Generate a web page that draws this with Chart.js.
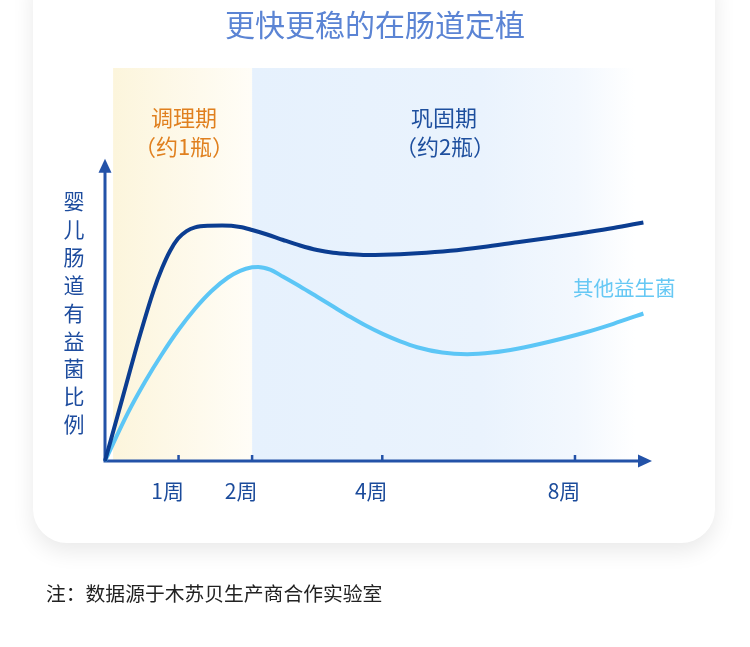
<!DOCTYPE html>
<html>
<head>
<meta charset="utf-8">
<script src="https://cdn.jsdelivr.net/npm/chart.js@4/dist/chart.umd.min.js"></script>
<style>
  html, body { margin: 0; padding: 0; background: #ffffff; }
  body { width: 750px; height: 647px; position: relative; overflow: hidden; font-family: "Noto Sans CJK SC", "Noto Sans", sans-serif; }
  #card { position: absolute; left: 33px; top: -40px; width: 682px; height: 583px; background: #fff; border-radius: 34px; box-shadow: 0 8px 22px rgba(0,0,0,0.09); }
  #wrap { position: absolute; left: 0; top: 0; width: 750px; height: 647px; }
  .t { position: absolute; white-space: nowrap; line-height: 1; }
  #title { left: 0; width: 750px; text-align: center; top: 8px; font-size: 30px; color: #5b84d4; }
  .phase1 { color: #e0801f; font-size: 22px; text-align: center; width: 160px; }
  .phase2 { color: #1e4f9e; font-size: 22px; text-align: center; width: 160px; }
  #ylab { position: absolute; left: 63px; top: 187px; width: 22px; font-size: 21px; line-height: 27.9px; color: #1d4c9e; text-align: center; }
  #other { left: 573px; top: 277px; font-size: 20.5px; color: #66c8f4; }
  #note { left: 46px; top: 583px; font-size: 19.8px; color: #222; }
</style>
</head>
<body>
<div id="card"></div>
<div id="wrap"><canvas id="c" width="750" height="647"></canvas></div>
<div class="t" id="title">更快更稳的在肠道定植</div>
<div class="t phase1" style="left:104px;top:105px;">调理期</div>
<div class="t phase1" style="left:104px;top:134px;">（约1瓶）</div>
<div class="t phase2" style="left:364px;top:105px;">巩固期</div>
<div class="t phase2" style="left:365px;top:134px;">（约2瓶）</div>
<div id="ylab"></div>
<div class="t" id="other">其他益生菌</div>
<div class="t" id="note">注：数据源于木苏贝生产商合作实验室</div>
<script>
// ---- data ----
const yAxisTitle = "婴儿肠道有益菌比例";
const tickPositions = [1, 2, 3.77, 6.39];
const tickLabels = ["1周", "2周", "4周", "8周"];
const phaseStart = [0.11, 2];
const phaseEnd = [2, 7.21];
const mainX = [0, 0.238, 0.476, 0.660, 0.776, 0.884, 0.993, 1.109, 1.224, 1.408, 1.592, 1.837, 2.000, 2.204, 2.422, 2.653, 2.884, 3.102, 3.333, 3.551, 3.782, 4.245, 4.694, 5.143, 5.605, 6.054, 6.503, 6.912, 7.320];
const mainY = [0, 20.84, 41.68, 56.30, 63.81, 69.47, 73.57, 76.05, 77.27, 77.80, 77.87, 77.41, 76.41, 74.93, 73.11, 71.29, 69.80, 68.87, 68.38, 68.14, 68.21, 68.71, 69.53, 70.79, 72.35, 73.83, 75.49, 77.08, 78.90];
const otherX = [0, 0.313, 0.544, 0.776, 1.000, 1.224, 1.449, 1.673, 1.837, 2.000, 2.082, 2.245, 2.422, 2.653, 2.884, 3.102, 3.333, 3.551, 3.782, 4.014, 4.245, 4.585, 4.925, 5.265, 5.605, 6.054, 6.503, 6.912, 7.320];
const otherY = [0, 15.98, 26.20, 35.40, 43.40, 50.38, 56.24, 60.70, 62.92, 64.08, 64.21, 63.31, 60.93, 57.72, 54.32, 51.08, 47.70, 44.72, 41.95, 39.56, 37.64, 35.86, 35.33, 35.86, 37.12, 39.53, 42.34, 45.39, 48.79];
const xMax = 7.41;
const yMax = 130;
const yArrowTop = 100;

document.getElementById('ylab').innerHTML = yAxisTitle.split('').join('<br>');

const AXIS = '#2352a8';

const decor = {
  id: 'decor',
  beforeDatasetsDraw(chart) {
    const ctx = chart.ctx, xs = chart.scales.x, ys = chart.scales.y, ca = chart.chartArea;
    ctx.save();
    const x0 = xs.getPixelForValue(phaseStart[0]), x1 = xs.getPixelForValue(phaseEnd[0]);
    let g = ctx.createLinearGradient(x0, 0, x1, 0);
    g.addColorStop(0, '#fcf5dc');
    g.addColorStop(1, '#fffdf7');
    ctx.fillStyle = g;
    ctx.fillRect(x0, ca.top, x1 - x0, ca.bottom - ca.top);
    const x2 = xs.getPixelForValue(phaseStart[1]), x3 = xs.getPixelForValue(phaseEnd[1]);
    g = ctx.createLinearGradient(x2, 0, x3, 0);
    g.addColorStop(0, '#e6f1fd');
    g.addColorStop(0.6, '#eaf3fd');
    g.addColorStop(0.85, '#f3f8fe');
    g.addColorStop(1, '#ffffff');
    ctx.fillStyle = g;
    ctx.fillRect(x2, ca.top, x3 - x2, ca.bottom - ca.top);

    const ox = xs.getPixelForValue(0), oy = ys.getPixelForValue(0);
    const topY = ys.getPixelForValue(yArrowTop), rightX = xs.getPixelForValue(xMax);
    ctx.strokeStyle = AXIS; ctx.fillStyle = AXIS; ctx.lineWidth = 3; ctx.lineCap = 'butt';
    ctx.beginPath();
    ctx.moveTo(ox, oy + 1.5); ctx.lineTo(ox, topY + 12);
    ctx.moveTo(ox - 1.5, oy); ctx.lineTo(rightX - 12, oy);
    ctx.stroke();
    ctx.beginPath();
    ctx.moveTo(ox, topY); ctx.lineTo(ox - 6.5, topY + 14); ctx.lineTo(ox + 6.5, topY + 14); ctx.closePath();
    ctx.fill();
    ctx.beginPath();
    ctx.moveTo(rightX + 2, oy); ctx.lineTo(rightX - 12, oy - 6.5); ctx.lineTo(rightX - 12, oy + 6.5); ctx.closePath();
    ctx.fill();
    ctx.lineWidth = 2.5;
    ctx.beginPath();
    tickPositions.forEach(v => {
      const px = xs.getPixelForValue(v);
      ctx.moveTo(px, oy); ctx.lineTo(px, oy - 6);
    });
    ctx.stroke();
    ctx.restore();
  }
};

new Chart(document.getElementById('c'), {
  type: 'line',
  data: {
    datasets: [
      {
        label: '本品',
        data: mainX.map((x, i) => ({x, y: mainY[i]})),
        borderColor: '#0b3d91', borderWidth: 4, pointRadius: 0,
        cubicInterpolationMode: 'monotone', fill: false, clip: 6
      },
      {
        label: '其他益生菌',
        data: otherX.map((x, i) => ({x, y: otherY[i]})),
        borderColor: '#5cc6f6', borderWidth: 4, pointRadius: 0,
        cubicInterpolationMode: 'monotone', fill: false, clip: 6
      }
    ]
  },
  options: {
    responsive: false,
    animation: false,
    events: [],
    layout: { padding: { left: 105, right: 100, top: 68, bottom: 136 } },
    plugins: { legend: { display: false }, tooltip: { enabled: false } },
    scales: {
      x: {
        type: 'linear', min: 0, max: xMax,
        grid: { display: false, drawTicks: false },
        border: { display: false },
        afterBuildTicks: (s) => { s.ticks = tickPositions.map(v => ({ value: v })); },
        afterFit: (s) => { s.height = 50; },
        ticks: {
          autoSkip: false, maxRotation: 0, padding: 17, labelOffset: -11,
          color: '#1b4b9b',
          font: { family: '"Noto Sans CJK SC"', size: 21 },
          callback: (v) => { const i = tickPositions.indexOf(v); return i >= 0 ? tickLabels[i] : ''; }
        }
      },
      y: { type: 'linear', min: 0, max: yMax, display: false }
    }
  },
  plugins: [decor]
});
</script>
</body>
</html>
